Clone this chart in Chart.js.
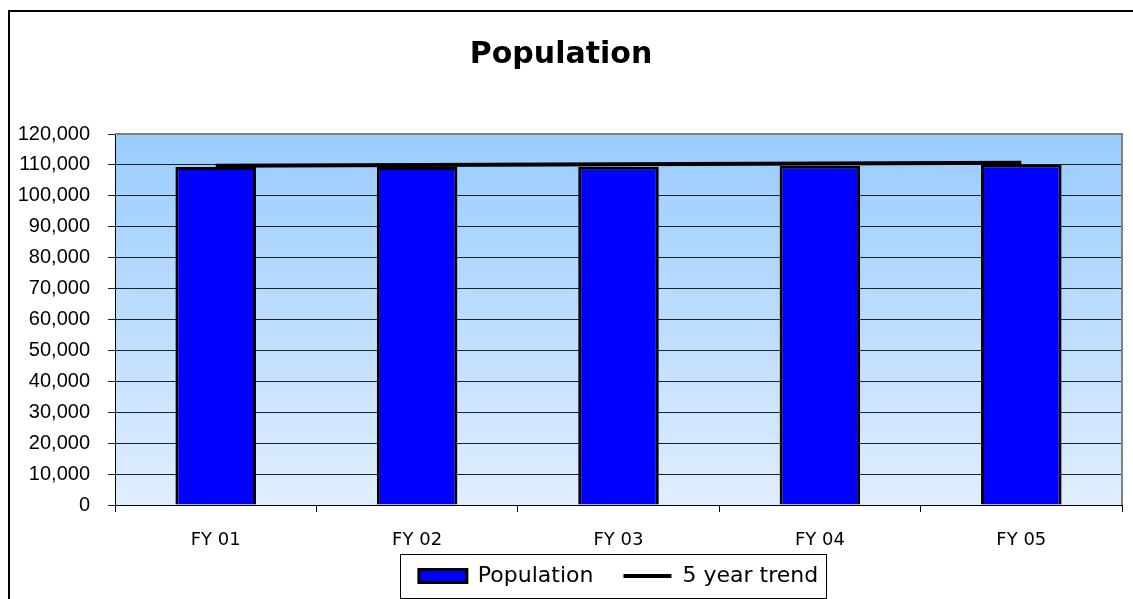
<!DOCTYPE html>
<html>
<head>
<meta charset="utf-8">
<script src="https://cdn.jsdelivr.net/npm/chart.js@4/dist/chart.umd.min.js"></script>
<style>
  html, body { margin: 0; padding: 0; background: #ffffff; }
  #wrap { width: 1133px; height: 599px; position: relative; }
</style>
</head>
<body>
<div id="wrap"><canvas id="c" width="1133" height="599"></canvas></div>
<script>
const categories = ["FY 01", "FY 02", "FY 03", "FY 04", "FY 05"];
const populationValues = [109300, 109350, 109400, 109700, 110100];
const trendValues = [109750, 109980, 110210, 110440, 110670];
const yTickMax = 120000;
const yTickStep = 10000;
const chartTitle = "Population";
const seriesNames = ["Population", "5 year trend"];

const framePlugin = {
  id: 'frame',
  afterLayout(chart) {
    // let the category labels extend below the axis box (they overlap the legend's empty top padding)
    const xs = chart.scales.x;
    xs.bottom = xs.top + 49;
    xs.height = 49;
  },
  beforeDraw(chart) {
    const ctx = chart.ctx;
    const a = chart.chartArea;
    ctx.save();
    ctx.fillStyle = '#ffffff';
    ctx.fillRect(0, 0, chart.width, chart.height);
    const g = ctx.createLinearGradient(0, a.top, 0, a.bottom);
    g.addColorStop(0, '#99CCFF');
    g.addColorStop(1, '#E0EEFF');
    ctx.fillStyle = g;
    ctx.fillRect(a.left, a.top, a.right - a.left, a.bottom - a.top);
    ctx.strokeStyle = '#000000';
    ctx.lineWidth = 2;
    ctx.beginPath();
    ctx.moveTo(9, chart.height);
    ctx.lineTo(9, 11);
    ctx.lineTo(chart.width, 11);
    ctx.stroke();
    ctx.restore();
  },
  beforeDatasetsDraw(chart) {
    const ctx = chart.ctx;
    const a = chart.chartArea;
    ctx.save();
    ctx.strokeStyle = '#808080';
    ctx.lineWidth = 2;
    ctx.beginPath();
    ctx.moveTo(a.left, a.top);
    ctx.lineTo(a.right, a.top);
    ctx.lineTo(a.right, a.bottom);
    ctx.stroke();
    ctx.restore();
  },
  afterDraw(chart) {
    const lg = chart.legend;
    if (!lg || !lg.legendHitBoxes || !lg.legendHitBoxes.length) return;
    const hb = lg.legendHitBoxes;
    const first = hb[0], last = hb[hb.length - 1];
    const cy = first.top + first.height / 2;
    const ctx = chart.ctx;
    ctx.save();
    ctx.strokeStyle = '#000000';
    ctx.lineWidth = 1;
    const l = Math.round(first.left - 19) + 0.5;
    const r = Math.round(last.left + last.width + 8) + 0.5;
    ctx.strokeRect(l, Math.round(cy - 22) + 0.5, r - l, 44);
    ctx.restore();
  }
};

new Chart(document.getElementById('c'), {
  type: 'bar',
  data: {
    labels: categories,
    datasets: [
      {
        type: 'bar',
        label: seriesNames[0],
        data: populationValues,
        backgroundColor: '#0000FF',
        borderColor: '#000000',
        borderWidth: 3,
        barPercentage: 0.4,
        categoryPercentage: 1.0,
        pointStyle: 'rect',
        order: 2
      },
      {
        type: 'line',
        label: seriesNames[1],
        data: trendValues,
        borderColor: '#000000',
        backgroundColor: '#000000',
        borderWidth: 4,
        pointRadius: 0,
        pointStyle: 'line',
        tension: 0,
        order: 1
      }
    ]
  },
  options: {
    responsive: false,
    animation: false,
    devicePixelRatio: 1,
    layout: { padding: { left: 0, right: 11, top: 0, bottom: 2 } },
    plugins: {
      title: {
        display: true,
        text: chartTitle,
        color: '#000000',
        font: { family: 'DejaVu Sans', size: 30, weight: 'bold', lineHeight: 1.2 },
        padding: { top: 37, bottom: 61 }
      },
      legend: {
        display: true,
        position: 'bottom',
        fullSize: false,
        labels: {
          usePointStyle: true,
          pointStyleWidth: 48,
          boxHeight: 13,
          padding: 30,
          color: '#000000',
          font: { family: 'DejaVu Sans', size: 22 },
          sort: (a, b) => a.datasetIndex - b.datasetIndex
        }
      },
      tooltip: { enabled: false }
    },
    scales: {
      x: {
        grid: { display: true, drawOnChartArea: false, drawTicks: true, tickLength: 7, color: '#000000', offset: true },
        border: { display: true, color: '#000000', width: 1 },
        ticks: { color: '#000000', padding: 18, font: { family: 'DejaVu Sans', size: 18 }, maxRotation: 0 },
        afterFit(scale) { scale.height = 30; }
      },
      y: {
        min: 0,
        max: yTickMax,
        grid: { color: '#222222', lineWidth: 1, drawTicks: true, tickLength: 7 },
        border: { display: true, color: '#000000', width: 1 },
        ticks: {
          stepSize: yTickStep,
          color: '#000000',
          padding: 18,
          font: { family: 'Liberation Sans', size: 20 },
          callback: (v) => v.toLocaleString('en-US')
        },
        afterFit(scale) { scale.width = 115; }
      }
    }
  },
  plugins: [framePlugin]
});
</script>
</body>
</html>
